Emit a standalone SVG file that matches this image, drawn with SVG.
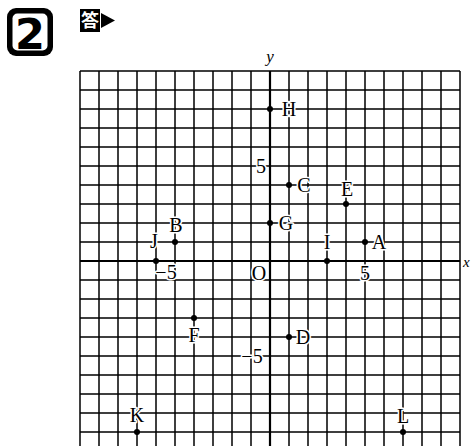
<svg xmlns="http://www.w3.org/2000/svg" width="471" height="446" viewBox="0 0 471 446">
<style>
.grid{stroke:#000;stroke-width:1.5;fill:none}
.axis{stroke:#000;stroke-width:2.2;fill:none}
.lbl{font-family:"Liberation Serif","Times New Roman",serif;font-size:20px;fill:#000;stroke:#fff;stroke-width:3;paint-order:stroke;stroke-linejoin:round}
.it{font-style:italic;font-size:17px}
.dot{fill:#000}
</style>
<rect width="471" height="446" fill="#fff"/>
<g id="header">
<rect x="7" y="8" width="46" height="48" rx="9" fill="#000"/>
<rect x="12.5" y="13.5" width="35" height="37" rx="5" fill="#fff"/>
<text x="30" y="49" text-anchor="middle" font-family="DejaVu Sans, sans-serif" font-weight="bold" font-size="43" fill="#000">2</text>
<rect x="80" y="9" width="20" height="23" fill="#000"/>
<text x="90" y="27" text-anchor="middle" font-family="Noto Sans CJK JP, sans-serif" font-weight="bold" font-size="18" fill="#fff">答</text>
<polygon points="101,13 115,20.5 101,28" fill="#000"/>
</g>
<g id="grid">
<path class="grid" d="M80,71V446M99,71V446M118,71V446M137,71V446M156,71V446M175,71V446M194,71V446M213,71V446M232,71V446M251,71V446M289,71V446M308,71V446M327,71V446M346,71V446M365,71V446M384,71V446M403,71V446M422,71V446M441,71V446M460,71V446"/>
<path class="grid" d="M80,71H460M80,90H460M80,109H460M80,128H460M80,147H460M80,166H460M80,185H460M80,204H460M80,223H460M80,242H460M80,280H460M80,299H460M80,318H460M80,337H460M80,356H460M80,375H460M80,394H460M80,413H460M80,432H460"/>
</g>
<g id="axes">
<path class="axis" d="M80,261H460M270,71V446"/>
<text class="lbl it" x="270" y="62" text-anchor="middle">y</text>
<text class="lbl it" x="463" y="267" style="font-size:15px">x</text>
<text class="lbl" x="259" y="280" text-anchor="middle">O</text>
<text class="lbl" x="365" y="280" text-anchor="middle">5</text>
<text class="lbl" x="166" y="279" text-anchor="middle">−5</text>
<text class="lbl" x="261" y="173" text-anchor="middle">5</text>
<text class="lbl" x="252" y="363" text-anchor="middle">−5</text>
</g>
<g id="A"><circle class="dot" cx="365" cy="242" r="3"/><text class="lbl" x="379" y="249" text-anchor="middle">A</text></g>
<g id="B"><circle class="dot" cx="175" cy="242" r="3"/><text class="lbl" x="176" y="232" text-anchor="middle">B</text></g>
<g id="C"><circle class="dot" cx="289" cy="185" r="3"/><text class="lbl" x="304" y="192" text-anchor="middle">C</text></g>
<g id="D"><circle class="dot" cx="289" cy="337" r="3"/><text class="lbl" x="303" y="344" text-anchor="middle">D</text></g>
<g id="E"><circle class="dot" cx="346" cy="204" r="3"/><text class="lbl" x="347" y="196" text-anchor="middle">E</text></g>
<g id="F"><circle class="dot" cx="194" cy="318" r="3"/><text class="lbl" x="194" y="342" text-anchor="middle">F</text></g>
<g id="G"><circle class="dot" cx="270" cy="223" r="3"/><text class="lbl" x="286" y="230" text-anchor="middle">G</text></g>
<g id="H"><circle class="dot" cx="270" cy="109" r="3"/><text class="lbl" x="289" y="116" text-anchor="middle">H</text></g>
<g id="I"><circle class="dot" cx="327" cy="261" r="3"/><text class="lbl" x="327" y="249" text-anchor="middle">I</text></g>
<g id="J"><circle class="dot" cx="156" cy="261" r="3"/><text class="lbl" x="154" y="248" text-anchor="middle">J</text></g>
<g id="K"><circle class="dot" cx="137" cy="432" r="3"/><text class="lbl" x="137" y="422" text-anchor="middle">K</text></g>
<g id="L"><circle class="dot" cx="403" cy="432" r="3"/><text class="lbl" x="403" y="423" text-anchor="middle">L</text></g>
</svg>
